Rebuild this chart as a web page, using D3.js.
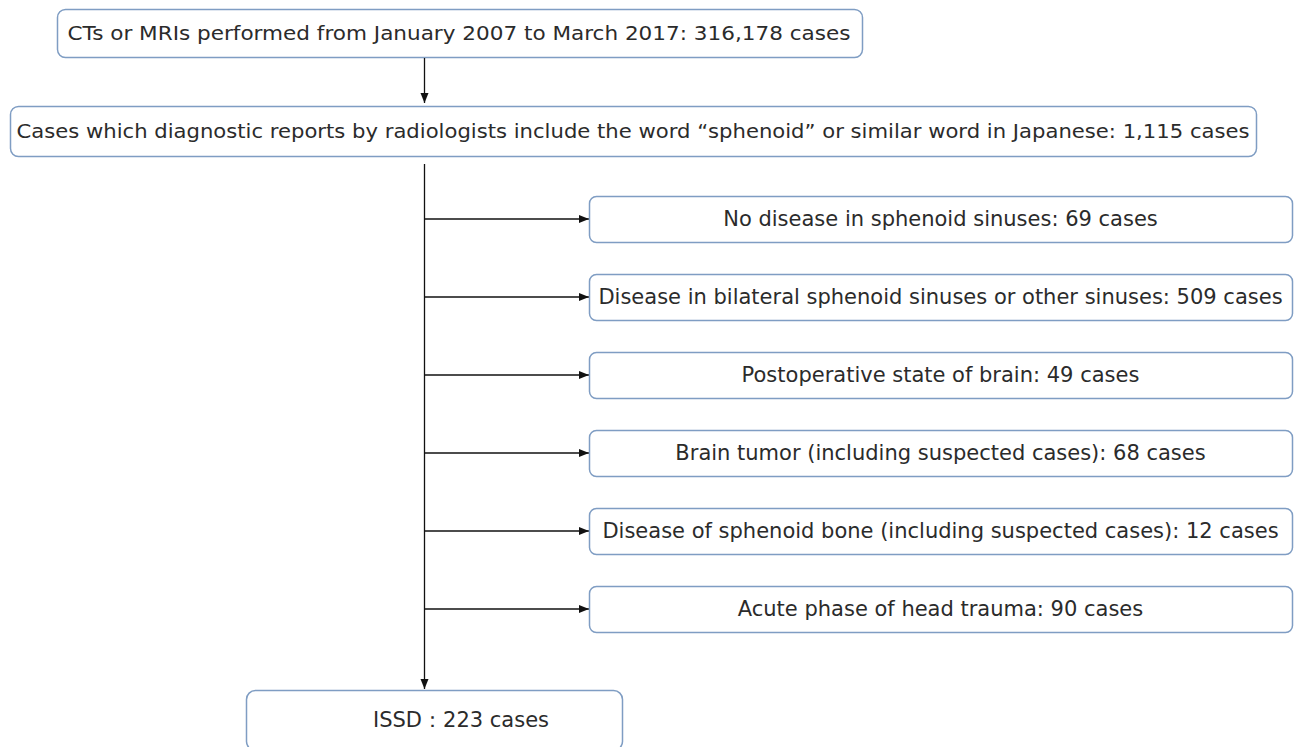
<!DOCTYPE html>
<html>
<head>
<meta charset="utf-8">
<script src="https://cdn.jsdelivr.net/npm/d3@7"></script>
<style>
  body { margin: 0; background: #fff; }
  text { font-family: "DejaVu Sans", Verdana, sans-serif; fill: #2b2b2b; }
</style>
</head>
<body>
<script>
// flow steps (main column)
const topSteps = [
  "CTs or MRIs performed from January 2007 to March 2017: 316,178 cases",
  "Cases which diagnostic reports by radiologists include the word \u201csphenoid\u201d or similar word in Japanese: 1,115 cases"
];
// excluded groups
const excludedLabels = [
  "No disease in sphenoid sinuses",
  "Disease in bilateral sphenoid sinuses or other sinuses",
  "Postoperative state of brain",
  "Brain tumor (including suspected cases)",
  "Disease of sphenoid bone (including suspected cases)",
  "Acute phase of head trauma"
];
const excludedCounts = [69, 509, 49, 68, 12, 90];
const finalLabel = "ISSD\uff1a223 cases";

const w = 1298;
const h = 747;
const stroke = "#7f9dc3";

const svg = d3.select("body").append("svg").attr("width", w).attr("height", h);

svg.append("defs").append("marker")
  .attr("id", "arr")
  .attr("viewBox", "0 0 10 10")
  .attr("refX", 10).attr("refY", 5)
  .attr("markerWidth", 10).attr("markerHeight", 10)
  .attr("markerUnits", "userSpaceOnUse")
  .attr("orient", "auto")
  .append("path").attr("d", "M0,1 L10,5 L0,9 Z").attr("fill", "#111");

// top boxes
const topBoxes = [
  { x: 57, y: 9, w: 805, h: 48, tx: 459, len: 783 },
  { x: 10, y: 106, w: 1246, h: 50, tx: 633, len: 1233 }
];

topSteps.forEach((s, i) => {
  const b = topBoxes[i];
  svg.append("rect")
    .attr("x", b.x + 0.5).attr("y", b.y + 0.5)
    .attr("width", b.w).attr("height", b.h)
    .attr("rx", 8)
    .attr("fill", "#fff").attr("stroke", stroke).attr("stroke-width", 1.5);
  svg.append("text")
    .attr("x", b.tx).attr("y", b.y + b.h / 2)
    .attr("dy", "0.35em")
    .attr("text-anchor", "middle")
    .attr("font-size", 20)
    .attr("textLength", b.len).attr("lengthAdjust", "spacingAndGlyphs")
    .text(s);
});

const spineX = 424.5;

svg.append("line")
  .attr("x1", spineX).attr("x2", spineX)
  .attr("y1", 58).attr("y2", 103)
  .attr("stroke", "#111").attr("stroke-width", 1.3)
  .attr("marker-end", "url(#arr)");

// exclusion rows
const y = d3.scalePoint()
  .domain(excludedLabels)
  .range([219, 609]);

const boxX = 589, boxW = 703, boxH = 46;

svg.append("line")
  .attr("x1", spineX).attr("x2", spineX)
  .attr("y1", 164).attr("y2", 689)
  .attr("stroke", "#111").attr("stroke-width", 1.3)
  .attr("marker-end", "url(#arr)");

const rows = svg.selectAll("g.row")
  .data(excludedLabels.map((l, i) => ({ label: l, n: excludedCounts[i] })))
  .enter().append("g").attr("class", "row");

rows.append("line")
  .attr("x1", spineX).attr("x2", boxX)
  .attr("y1", d => y(d.label)).attr("y2", d => y(d.label))
  .attr("stroke", "#111").attr("stroke-width", 1.3)
  .attr("marker-end", "url(#arr)");

rows.append("rect")
  .attr("x", boxX + 0.5)
  .attr("y", d => y(d.label) - boxH / 2 + 0.5)
  .attr("width", boxW).attr("height", boxH)
  .attr("rx", 7)
  .attr("fill", "#fff").attr("stroke", stroke).attr("stroke-width", 1.5);

rows.append("text")
  .attr("x", boxX + boxW / 2)
  .attr("y", d => y(d.label))
  .attr("dy", "0.35em")
  .attr("text-anchor", "middle")
  .attr("font-size", 21)
  .text(d => `${d.label}: ${d.n} cases`);

// final box
svg.append("rect")
  .attr("x", 246.5).attr("y", 690.5)
  .attr("width", 376).attr("height", 60)
  .attr("rx", 9)
  .attr("fill", "#fff").attr("stroke", stroke).attr("stroke-width", 1.5);

svg.append("text")
  .attr("x", 461).attr("y", 720)
  .attr("dy", "0.35em")
  .attr("text-anchor", "middle")
  .attr("font-size", 21)
  .text(finalLabel);
</script>
</body>
</html>
